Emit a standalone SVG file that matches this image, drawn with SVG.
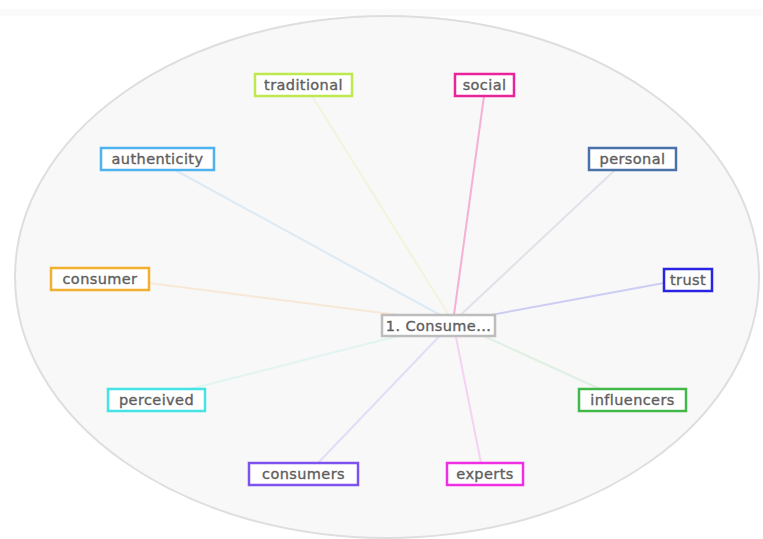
<svg xmlns="http://www.w3.org/2000/svg" width="763" height="539" viewBox="0 0 763 539">
<style>
.bg{fill:#f8f8f8;stroke:#dedede;stroke-width:2}
.e{stroke-width:2;fill:none;opacity:0.3}
.n rect{fill:#fff;stroke-width:2.5}
.n text{font-family:"DejaVu Sans","Liberation Sans",sans-serif;font-size:14.5px;letter-spacing:0.4px;fill:#5e5e5e;stroke:#5e5e5e;stroke-width:0.35;text-anchor:middle;dominant-baseline:central}
</style>
<rect x="0" y="0" width="763" height="539" fill="#ffffff"/>
<rect x="0" y="9" width="763" height="7" fill="#f6f6f6" opacity="0.6"/>
<ellipse class="bg" cx="387" cy="277" rx="372" ry="261"/>
<g id="connectors">
<line class="e" x1="453" y1="322" x2="312" y2="96" stroke="#e2ec9a"/>
<line class="e" x1="453" y1="322" x2="484" y2="96" stroke="#f05aa8" style="opacity:0.45"/>
<line class="e" x1="453" y1="322" x2="175" y2="170" stroke="#9ecbe8"/>
<line class="e" x1="453" y1="322" x2="615" y2="170" stroke="#a6b4c8"/>
<line class="e" x1="453" y1="322" x2="149" y2="283" stroke="#f6c48a"/>
<line class="e" x1="453" y1="322" x2="664" y2="283" stroke="#6a6ae8"/>
<line class="e" x1="453" y1="322" x2="190" y2="389" stroke="#a8eee6"/>
<line class="e" x1="453" y1="322" x2="600" y2="389" stroke="#a8dcae"/>
<line class="e" x1="453" y1="322" x2="318" y2="463" stroke="#b49cf2"/>
<line class="e" x1="453" y1="322" x2="481" y2="463" stroke="#f07ae8"/>
</g>
<g id="n-center" class="n"><rect x="382" y="315" width="113" height="21" stroke="#bdbdbd" stroke-width="2"/><text x="438.5" y="325.5">1. Consume...</text></g>
<g id="n-traditional" class="n"><rect x="255" y="74" width="97" height="22" stroke="#bde84e"/><text x="303.5" y="85">traditional</text></g>
<g id="n-social" class="n"><rect x="455" y="74" width="59" height="22" stroke="#e9239a"/><text x="484.5" y="85">social</text></g>
<g id="n-authenticity" class="n"><rect x="101" y="148" width="113" height="22" stroke="#4db2ee"/><text x="157.5" y="159">authenticity</text></g>
<g id="n-personal" class="n"><rect x="589" y="148" width="87" height="22" stroke="#4a72a8"/><text x="632.5" y="159">personal</text></g>
<g id="n-consumer" class="n"><rect x="51" y="268" width="98" height="22" stroke="#f2ae2e"/><text x="100" y="279">consumer</text></g>
<g id="n-trust" class="n"><rect x="664" y="269" width="48" height="22" stroke="#2a24e0"/><text x="688" y="280">trust</text></g>
<g id="n-perceived" class="n"><rect x="108" y="389" width="97" height="22" stroke="#45e3e6"/><text x="156.5" y="400">perceived</text></g>
<g id="n-influencers" class="n"><rect x="579" y="389" width="107" height="22" stroke="#42b84a"/><text x="632.5" y="400">influencers</text></g>
<g id="n-consumers" class="n"><rect x="249" y="463" width="109" height="22" stroke="#7e52ee"/><text x="303.5" y="474">consumers</text></g>
<g id="n-experts" class="n"><rect x="447" y="463" width="76" height="22" stroke="#f02ee4"/><text x="485" y="474">experts</text></g>
</svg>
